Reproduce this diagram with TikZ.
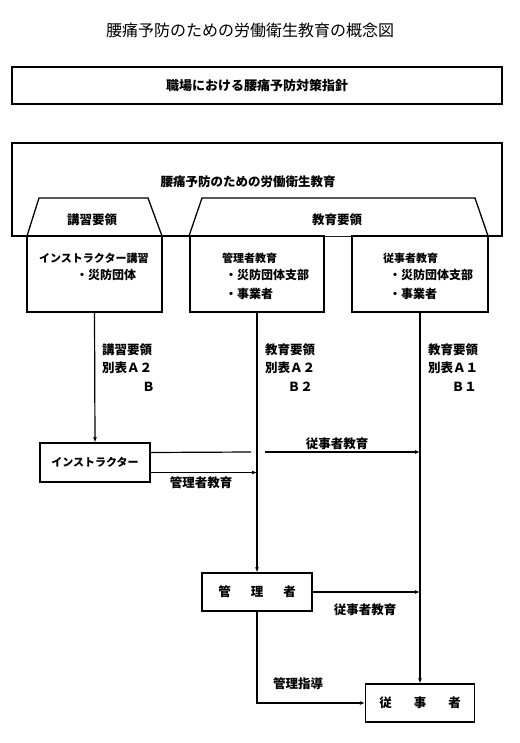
\documentclass[tikz,border=0pt]{standalone}
\usepackage{fontspec}
\setmainfont{Noto Sans CJK JP}
\usetikzlibrary{arrows.meta,positioning}

\begin{document}
\begin{tikzpicture}[x=1pt, y=-1pt, >={Latex[length=5pt,width=4pt]},
  frame/.style={draw, line width=1.3pt, inner sep=0pt},
  heading/.style={font=\bfseries\fontsize{12.5}{14}\selectfont, inner sep=0pt},
  entry/.style={font=\bfseries\fontsize{11}{13}\selectfont, inner sep=0pt, anchor=west},
  bullet/.style={font=\bfseries\fontsize{12}{13}\selectfont, inner sep=0pt, anchor=west},
  flow/.style={line width=1.2pt}]
  \useasboundingbox (0,0) rectangle (519,743);

  % title
  \node[font=\fontsize{16}{18}\selectfont] (title) at (250,30) {腰痛予防のための労働衛生教育の概念図};

  % guideline box
  \node[frame, minimum width=490pt, minimum height=37pt, font=\bfseries\fontsize{13}{14}\selectfont]
    (guide) at (257,85.5) {職場における腰痛予防対策指針};

  % education frame with two tabs
  \draw[line width=1.3pt] (12,143) rectangle (502,236);
  \node[heading] (edu) at (248,182) {腰痛予防のための労働衛生教育};
  \draw[line width=1.3pt, fill=white] (27,236) -- (39,198) -- (148,198) -- (162,236);
  \draw[line width=1.3pt, fill=white] (189,236) -- (202,198) -- (475,198) -- (488,236);
  \node[heading] (kosyu) at (92,220) {講習要領};
  \node[heading] (kyoiku) at (337,220) {教育要領};

  % three course boxes
  \node[frame, minimum width=135pt, minimum height=76pt] (boxA) at (94.5,274) {};
  \node[frame, minimum width=134pt, minimum height=76pt] (boxB) at (257,274) {};
  \node[frame, minimum width=136pt, minimum height=76pt] (boxC) at (420,274) {};
  \node[entry] (boxA1) at (39,258) {インストラクター講習};
  \node[bullet] (boxA2) at (76,275) {・災防団体};
  \node[entry] (boxB1) at (222,258) {管理者教育};
  \node[bullet] (boxB2) at (225,275) {・災防団体支部};
  \node[bullet] (boxB3) at (225,294) {・事業者};
  \node[entry] (boxC1) at (383,258) {従事者教育};
  \node[bullet] (boxC2) at (389,275) {・災防団体支部};
  \node[bullet] (boxC3) at (389,294) {・事業者};

  % people
  \node[frame, minimum width=110pt, minimum height=39pt, font=\bfseries\fontsize{11}{13}\selectfont]
    (instr) at (95,462.5) {インストラクター};
  \node[frame, minimum width=110pt, minimum height=38pt, font=\bfseries\fontsize{12.5}{14}\selectfont]
    (mgr) at (257,592) {管\hspace{20pt}理\hspace{20pt}者};
  \node[frame, minimum width=109pt, minimum height=38pt, font=\bfseries\fontsize{12.5}{14}\selectfont]
    (worker) at (420,703) {従\hspace{22pt}事\hspace{22pt}者};

  % manuals along the lines
  \node[heading, anchor=west] (specA1) at (102,350) {講習要領};
  \node[heading, anchor=west] (specA2) at (102,368) {別表Ａ２};
  \node[heading, anchor=east] (specA3) at (155,387) {Ｂ};
  \node[heading, anchor=west] (specB1) at (265,350) {教育要領};
  \node[heading, anchor=west] (specB2) at (265,368) {別表Ａ２};
  \node[heading, anchor=east] (specB3) at (313,387) {Ｂ２};
  \node[heading, anchor=west] (specC1) at (428,350) {教育要領};
  \node[heading, anchor=west] (specC2) at (428,368) {別表Ａ１};
  \node[heading, anchor=east] (specC3) at (477,387) {Ｂ１};

  % connectors
  \draw[flow, ->] (boxA.south) -- (instr.north);
  \draw[flow, ->] (boxB.south) -- (mgr.north);
  \draw[flow, ->] (boxC.south) -- (worker.north);

  \coordinate (gapL) at (251,452);
  \coordinate (gapR) at (265,452);
  \draw[flow] ([yshift=10pt]instr.east) -- (gapL);
  \draw[flow, ->] (gapR) -- (gapR -| boxC.south);
  \draw[flow, ->] ([yshift=-10pt]instr.east) -- ([yshift=-10pt]instr.east -| mgr.north);
  \draw[flow, ->] (mgr.east) -- (mgr.east -| worker.north);
  \draw[flow, ->] (mgr.south) |- (worker.west);

  \node[heading] (toWorker1) at (337,444) {従事者教育};
  \node[heading] (toMgr) at (201,483) {管理者教育};
  \node[heading] (toWorker2) at (365,610) {従事者教育};
  \node[heading] (guidance) at (298,684) {管理指導};
\end{tikzpicture}
\end{document}
